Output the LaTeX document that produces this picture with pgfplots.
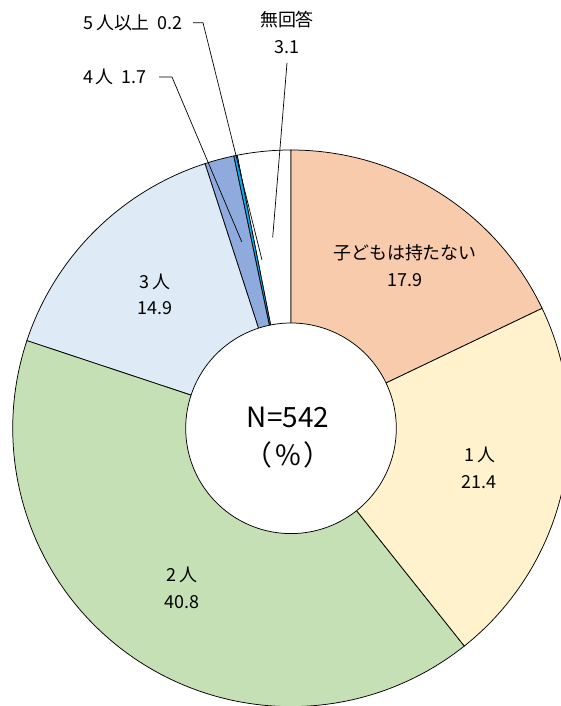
\documentclass[border=0pt]{standalone}
\usepackage{fontspec}
\setmainfont{Noto Sans CJK JP}
\usepackage{pgfplots}
\usepackage{pgfplotstable}
\pgfplotsset{compat=1.18}
\definecolor{cNone}{HTML}{F8CBAD}
\definecolor{cOne}{HTML}{FFF2CC}
\definecolor{cTwo}{HTML}{C5E0B4}
\definecolor{cThree}{HTML}{DEEBF7}
\definecolor{cFour}{HTML}{8FAADC}
\definecolor{cFive}{HTML}{00B0F0}
\definecolor{cNoAns}{HTML}{FFFFFF}

% counter-clockwise from 12 o'clock
\pgfplotstableread{
value color
3.1  cNoAns
0.2  cFive
1.7  cFour
14.9 cThree
40.8 cTwo
21.4 cOne
17.9 cNone
}\piedata

\def\cx{291}
\def\cy{277.7}
\def\R{278.3}
\def\r{105.3}
\gdef\cum{0}
\newcommand\slice[2]{%
  \pgfmathsetmacro\sa{90+3.6*\cum}%
  \pgfmathsetmacro\sb{90+3.6*(\cum+#1)}%
  \edef\doplot{\noexpand\addplot[fill=#2,draw=black,line width=0.75pt,domain=\sa:\sb,samples=120,variable=\noexpand\t]
    ({\cx+\R*cos(\noexpand\t)},{\cy+\R*sin(\noexpand\t)}) -- (axis cs:\cx,\cy) -- cycle;}%
  \doplot
  \pgfmathsetmacro\newcum{\cum+#1}\xdef\cum{\newcum}%
}
\newcommand\dg{\kern3pt}
\newcommand\wsp{\hspace{8pt}}

\begin{document}
\begin{tikzpicture}
\begin{axis}[
  scale only axis, width=561bp, height=706bp,
  xmin=0, xmax=561, ymin=0, ymax=706,
  hide axis, clip=true,
]
\pgfplotsforeachungrouped \i in {0,...,6}{%
  \pgfplotstablegetelem{\i}{value}\of\piedata\let\v\pgfplotsretval
  \pgfplotstablegetelem{\i}{color}\of\piedata\let\c\pgfplotsretval
  \slice{\v}{\c}%
}
\addplot[fill=white,draw=black,line width=0.75pt,domain=0:360,samples=240]
  ({\cx+\r*cos(x)},{\cy+\r*sin(x)});

% leader lines
\draw[black, line width=0.7pt] (axis cs:193,683.3) -- (axis cs:203,683.3) -- (axis cs:262,446);
\draw[black, line width=0.7pt] (axis cs:159,629) -- (axis cs:172,629) -- (axis cs:241.7,464.3);
\draw[black, line width=0.7pt] (axis cs:287,643) -- (axis cs:272.7,468.7);

% labels
\begin{scope}[every node/.style={font=\fontsize{18}{22}\selectfont, inner sep=0pt}]
\node[anchor=east] at (axis cs:183,683.3) {5\dg 人以上\wsp 0.2};
\node[anchor=east] at (axis cs:147,629) {4\dg 人\wsp 1.7};
\node at (axis cs:287,686.5) {無回答};
\node at (axis cs:287,659.3) {3.1};
\node at (axis cs:405,453) {子どもは持たない};
\node at (axis cs:405,426) {17.9};
\node at (axis cs:480,251) {1\dg 人};
\node at (axis cs:479,224.3) {21.4};
\node at (axis cs:181.7,131) {2\dg 人};
\node at (axis cs:181.7,104.3) {40.8};
\node at (axis cs:155,424.3) {3\dg 人};
\node at (axis cs:155,397.7) {14.9};
\end{scope}
\node[font=\fontsize{28}{32}\selectfont, inner sep=0pt] at (axis cs:288,289) {N=542};
\node[font=\fontsize{28}{32}\selectfont, inner sep=0pt] at (axis cs:288,251) {（\kern3pt\%\kern3pt）};
\end{axis}
\pgfresetboundingbox
\path[use as bounding box] (current axis.south west) rectangle (current axis.north east);
\end{tikzpicture}
\end{document}
